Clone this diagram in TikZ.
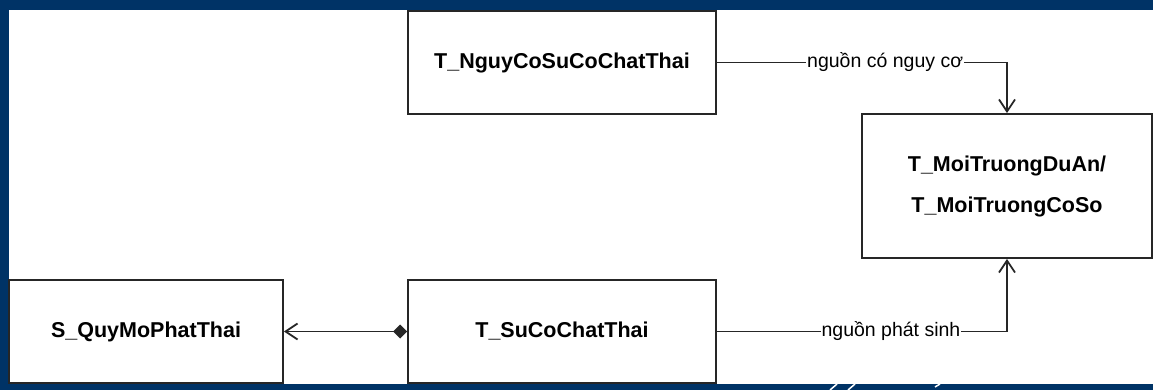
\documentclass[tikz,border=0pt]{standalone}
\usepackage{fontspec}
\setmainfont{Liberation Sans}
\usetikzlibrary{arrows.meta}
\definecolor{frameblue}{RGB}{0,51,102}
\tikzset{
  entity/.style={draw=black!85, line width=1.8pt, fill=white, inner sep=0pt,
    font=\fontsize{21.5}{41}\selectfont\bfseries, align=center},
  link/.style={draw=black!85, line width=1.8pt},
  linklabel/.style={fill=white, inner sep=1pt, font=\fontsize{19.5}{23}\selectfont},
  openhead/.style={-{Straight Barb[length=12pt,width=16pt,line width=1.8pt]}},
}
\begin{document}
\begin{tikzpicture}[x=1pt,y=-1pt]
  % page frame: white sheet with dark blue edges
  \useasboundingbox (0,0) rectangle (1153,390);
  \fill[frameblue] (0,0) rectangle (1153,390);
  \fill[white] (9,10) rectangle (1153,384);
  \draw[white, line width=1.5pt] (830,390) -- (837,384);
  \draw[white, line width=1.5pt] (848,390) -- (855,384);
  \draw[white, line width=1.5pt] (935,387) -- (940,384);

  % entities
  \node[entity, minimum width=308, minimum height=103] (nguyco) at (562,62.5) {T\_NguyCoSuCoChatThai};
  \node[entity, minimum width=290, minimum height=144] (moitruong) at (1007,186) {T\_MoiTruongDuAn/\\T\_MoiTruongCoSo};
  \node[entity, minimum width=274, minimum height=103] (quymo) at (146,331.5) {S\_QuyMoPhatThai};
  \node[entity, minimum width=308, minimum height=103] (suco) at (562,331.5) {T\_SuCoChatThai};

  % relations
  \draw[link, openhead] (nguyco.east) -| node[linklabel, pos=0.29] {nguồn có nguy cơ} (moitruong.north);
  \draw[link, openhead] (suco.east) -| node[linklabel, pos=0.30] {nguồn phát sinh} (moitruong.south);
  \draw[link, {Diamond[length=14pt,width=14pt]}-{Straight Barb[length=12pt,width=16pt,line width=1.8pt]}] (suco.west) -- (quymo.east);
\end{tikzpicture}
\end{document}
